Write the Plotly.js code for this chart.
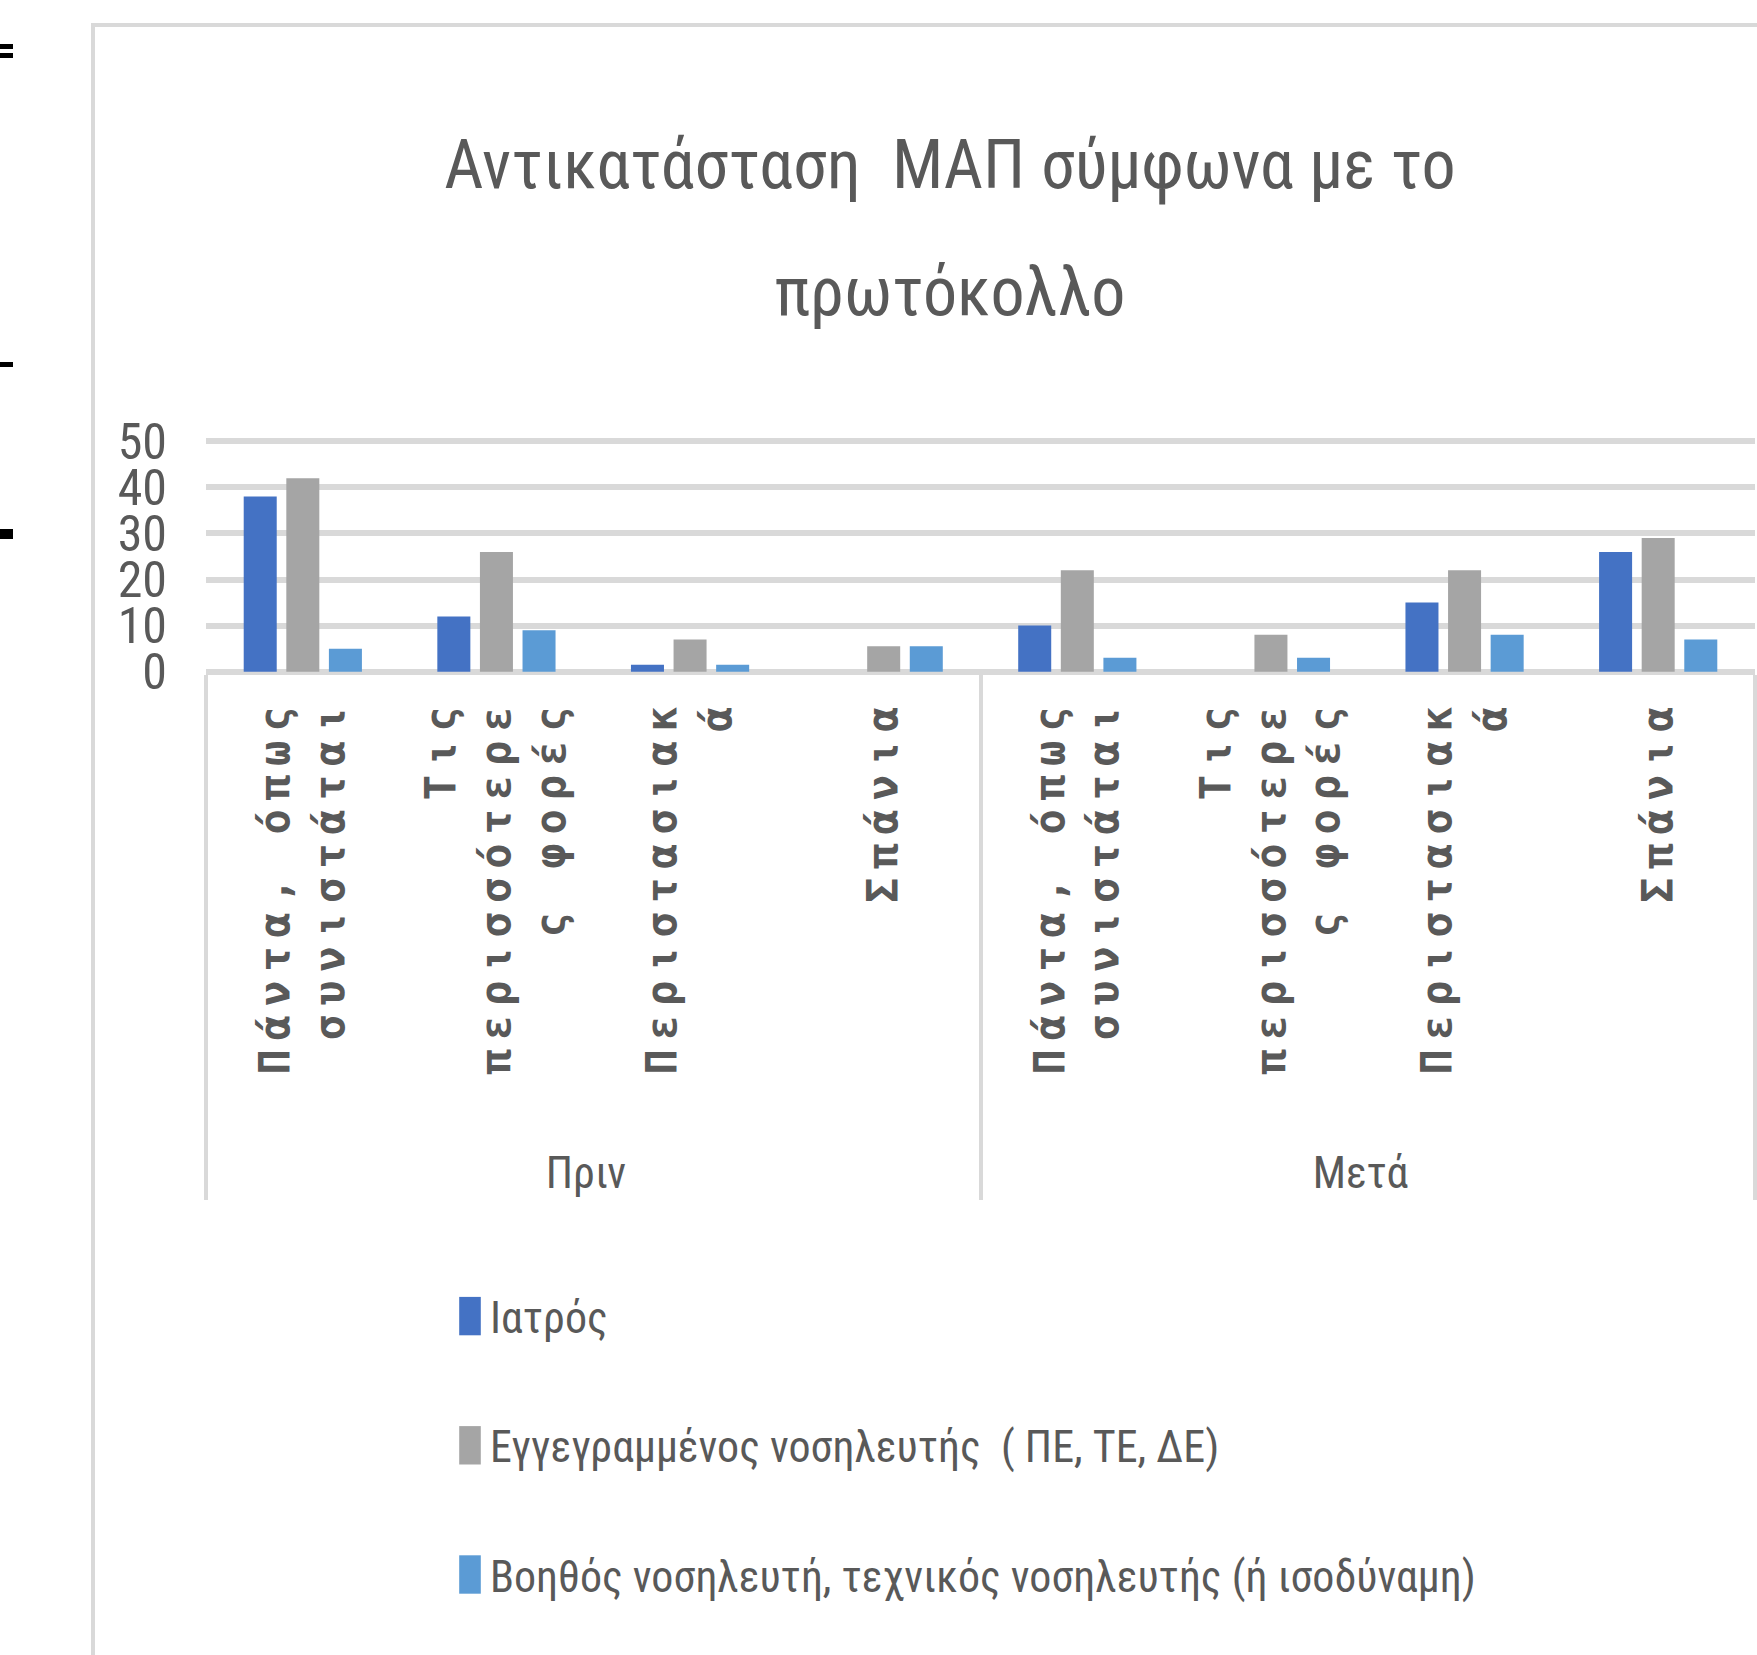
<!DOCTYPE html>
<html>
<head>
<meta charset="utf-8">
<script src="https://cdn.plot.ly/plotly-3.0.1.min.js"></script>
<style>
html, body { margin: 0; padding: 0; background: #ffffff; }
#chart { width: 1757px; height: 1655px; }
.xtick text { letter-spacing: 9px; }
.xtick2 { transform: translateY(50px); }
.xtick2 text {
  font-family: "Roboto Condensed", "Liberation Sans Narrow", "DejaVu Sans Condensed", sans-serif !important;
  font-size: 44px !important;
  font-weight: normal !important;
  letter-spacing: normal;
}
.legend .legendpoints path { transform: translate(20px, 0px) scale(1.8, 3.2); }
</style>
</head>
<body>
<div id="chart"></div>
<script>
// ---- data ----
const periods = ['Πριν', 'Πριν', 'Πριν', 'Πριν', 'Μετά', 'Μετά', 'Μετά', 'Μετά'];
const frequencies = [
  'Πάντα, όπως<br>συνιστάται', 'Τις<br>περισσότερε<br>ς φορές', 'Περιστασιακ<br>ά', 'Σπάνια',
  'Πάντα, όπως<br>συνιστάται', 'Τις<br>περισσότερε<br>ς φορές', 'Περιστασιακ<br>ά', 'Σπάνια'
];
const seriesNames = [
  'Ιατρός',
  'Εγγεγραμμένος νοσηλευτής  ( ΠΕ, ΤΕ, ΔΕ)',
  'Βοηθός νοσηλευτή, τεχνικός νοσηλευτής (ή ισοδύναμη)'
];
const iatros    = [38, 12, 1.5, 0, 10, 0, 15, 26];
const nurse     = [42, 26, 7, 5.5, 22, 8, 22, 29];
const assistant = [5, 9, 1.5, 5.5, 3, 3, 8, 7];
const seriesValues = [iatros, nurse, assistant];
const seriesColors = ['#4472C4', '#A5A5A5', '#5B9BD5'];
const titleLines = ['Αντικατάσταση  ΜΑΠ σύμφωνα με το', 'πρωτόκολλο'];

// ---- styling ----
const NARROW = '"Roboto Condensed", "Liberation Sans Narrow", "DejaVu Sans Condensed", sans-serif';
const TEXT = '#595959';
const GRID = '#d9d9d9';
const W = 1757, H = 1655;
const PL = 206, PR = 1755, PT = 439, PB = 674;
function px(x) { return (x - PL) / (PR - PL); }
function py(y) { return (PB - y) / (PB - PT); }

const traces = seriesValues.map((vals, i) => ({
  type: 'bar',
  name: seriesNames[i],
  legendgroup: 'g' + i,
  x: [periods, frequencies],
  y: vals,
  marker: { color: seriesColors[i] },
  hoverinfo: 'skip'
}));

function lineShape(x0, y0, x1, y1, color, width) {
  return { type: 'line', xref: 'paper', yref: 'paper', x0: px(x0), x1: px(x1), y0: py(y0), y1: py(y1),
           line: { color: color, width: width } };
}
function rectShape(x0, y0, x1, y1, color) {
  return { type: 'rect', xref: 'paper', yref: 'paper', x0: px(x0), x1: px(x1), y0: py(y0), y1: py(y1),
           fillcolor: color, line: { width: 0 } };
}

const shapes = [
  lineShape(93, 23, 93, 1665, GRID, 4),
  lineShape(91, 25, 1765, 25, GRID, 4),
  rectShape(0, 44, 13, 49, '#000'),
  rectShape(0, 53, 13, 58, '#000'),
  rectShape(0, 362, 13, 367, '#000'),
  rectShape(0, 529, 13, 539, '#000')
];

const layout = {
  width: W, height: H,
  margin: { l: PL, r: W - PR, t: PT, b: H - PB, autoexpand: false },
  paper_bgcolor: '#ffffff', plot_bgcolor: '#ffffff',
  title: {
    text: titleLines.map(t => '<span style="font-size:68px">' + t + '</span>').join('<br>'),
    font: { family: NARROW, size: 98, color: TEXT },
    xref: 'container', x: 950 / W, xanchor: 'center',
    yref: 'container', y: 1 - 188 / H, yanchor: 'top'
  },
  barmode: 'group', bargap: 0.34, bargroupgap: 0.225,
  xaxis: {
    type: 'multicategory',
    tickangle: -90,
    tickfont: { family: '"DejaVu Sans Mono", monospace', size: 42, color: TEXT, weight: 'bold' },
    showdividers: true, dividercolor: GRID, dividerwidth: 4,
    ticks: '', showgrid: false, showline: false, zeroline: false,
    ticklabelstandoff: 14, fixedrange: true
  },
  yaxis: {
    range: [-0.5, 50.5], tick0: 0, dtick: 10,
    showgrid: true, gridcolor: GRID, gridwidth: 6,
    zeroline: false, showline: false, ticks: '',
    tickfont: { family: NARROW, size: 50, color: TEXT },
    ticklabelstandoff: 38, fixedrange: true
  },
  showlegend: true,
  legend: {
    xref: 'container', x: 450 / W, xanchor: 'left',
    yref: 'container', y: 1 - 1281 / H, yanchor: 'top',
    font: { family: NARROW, size: 44, color: TEXT },
    tracegroupgap: 69, bgcolor: 'rgba(0,0,0,0)', borderwidth: 0
  },
  shapes: shapes
};

Plotly.newPlot('chart', traces, layout, { displayModeBar: false, staticPlot: true });
</script>
</body>
</html>
